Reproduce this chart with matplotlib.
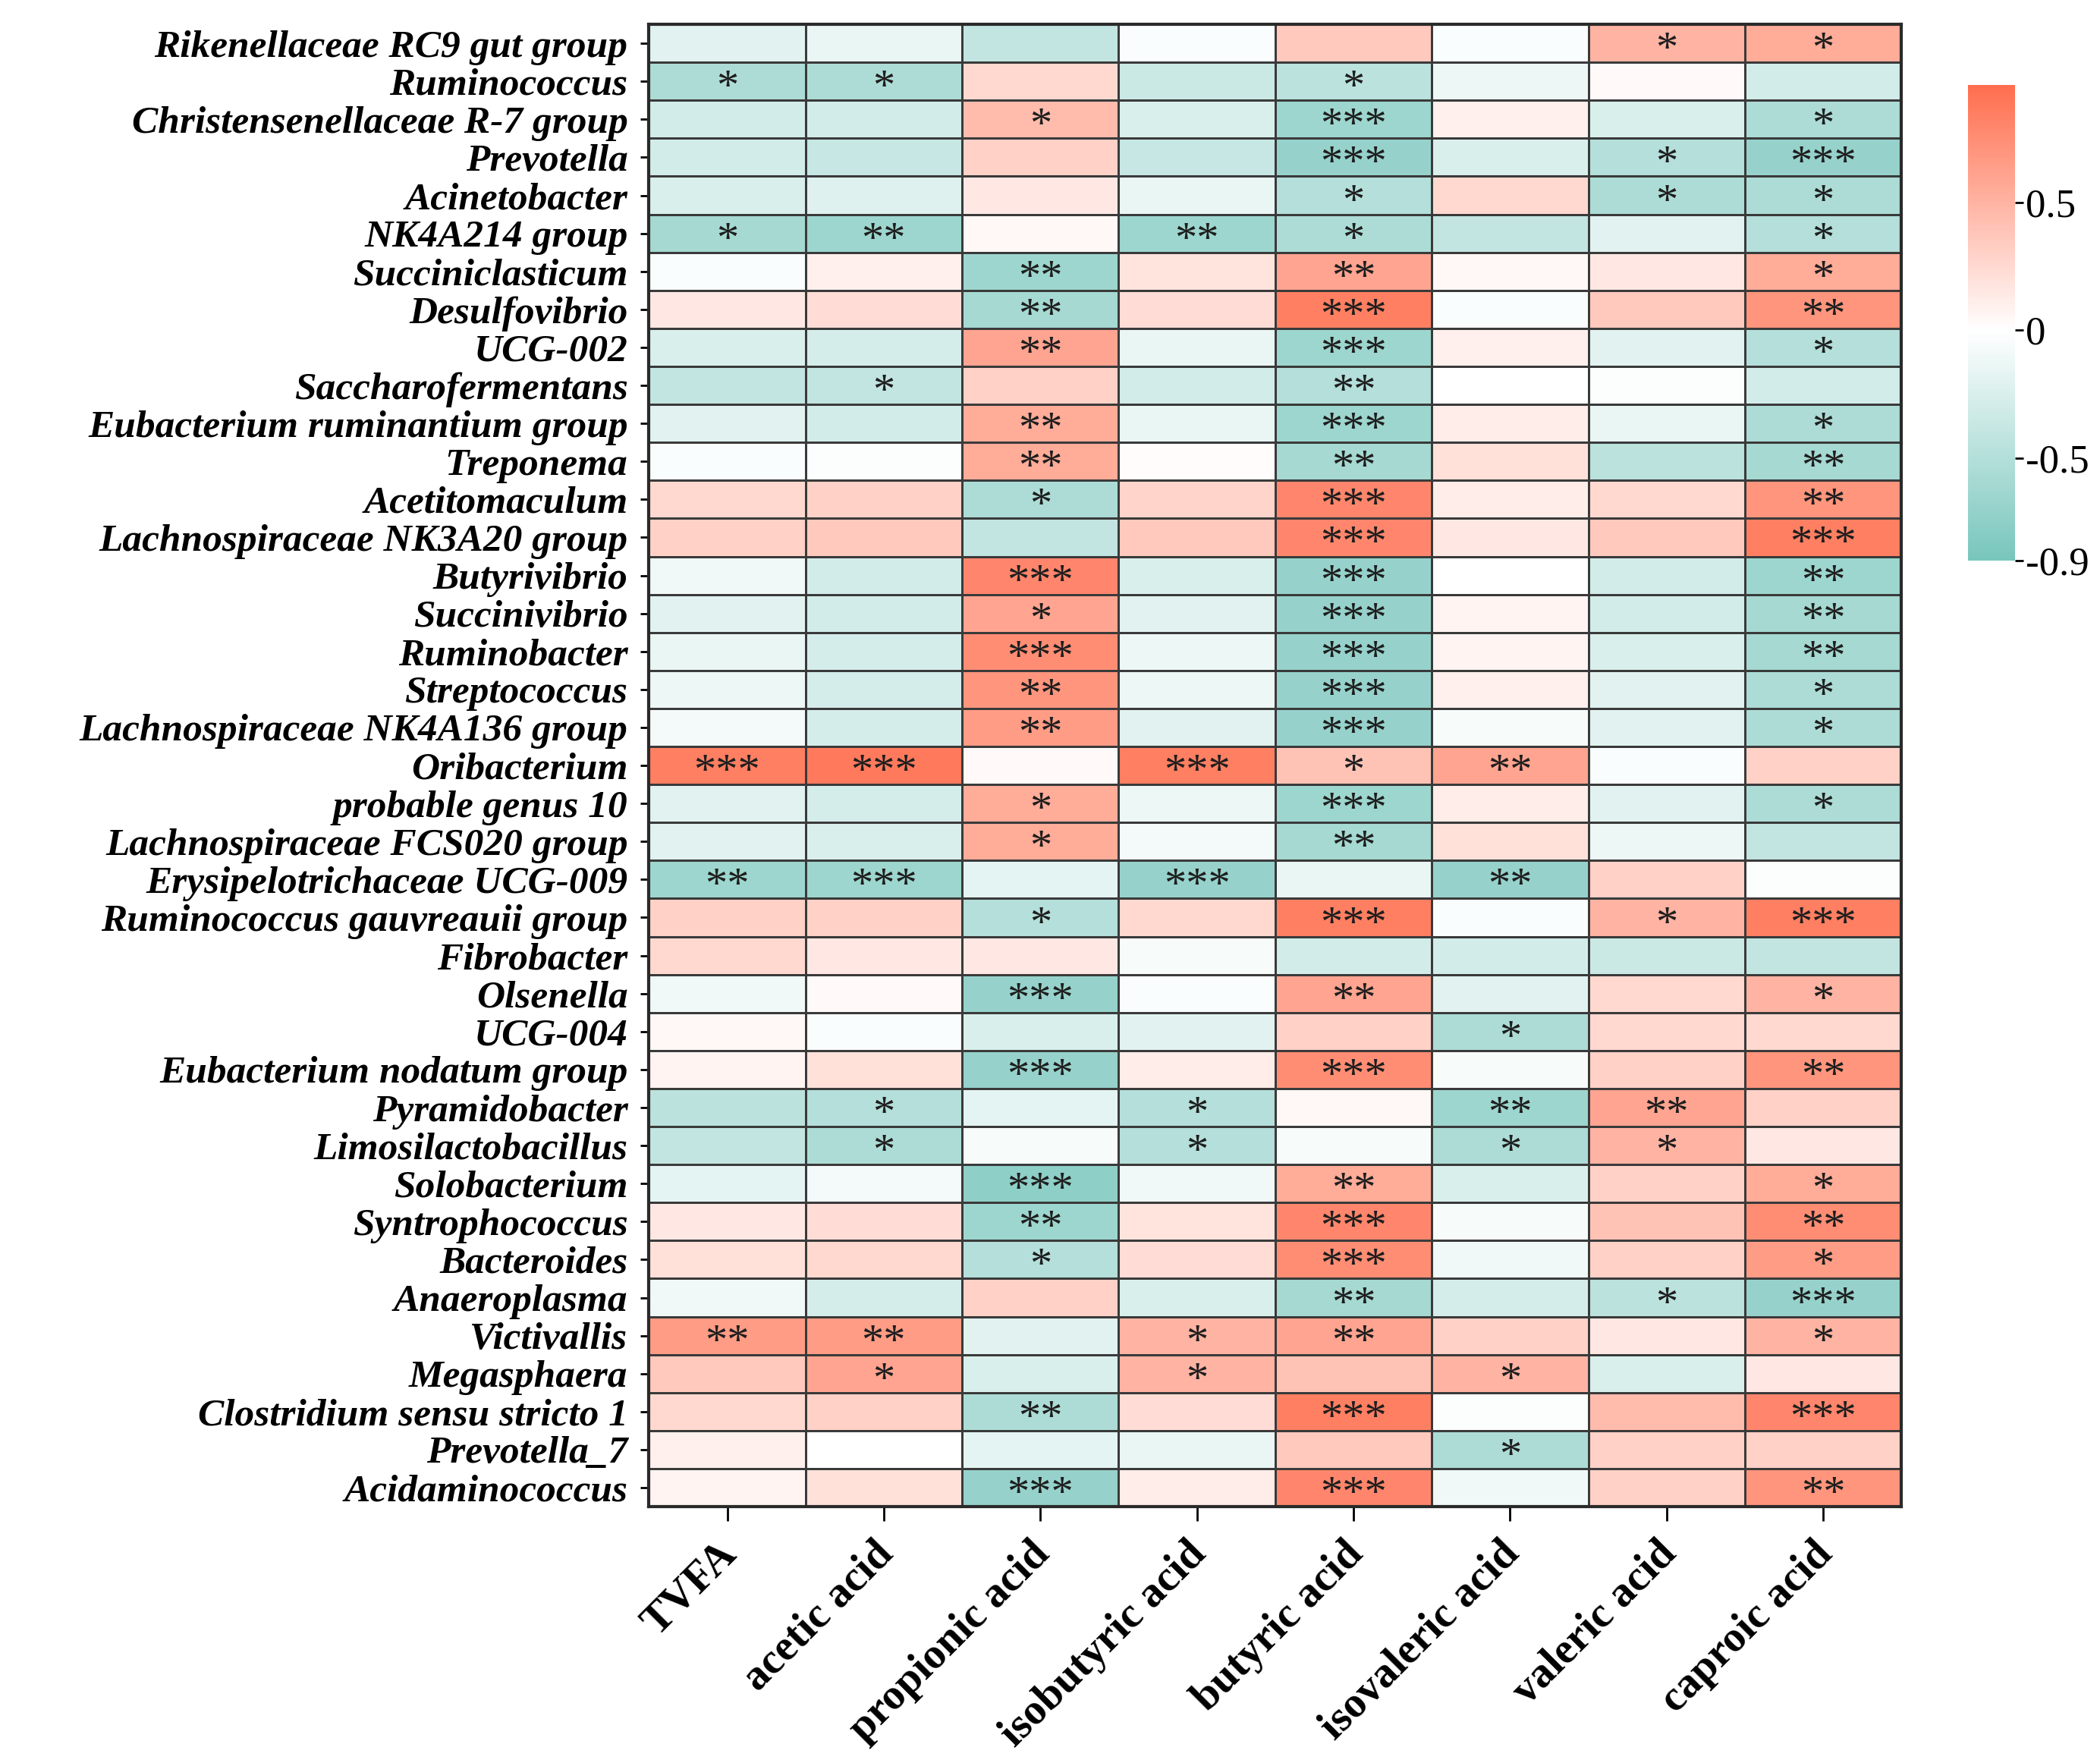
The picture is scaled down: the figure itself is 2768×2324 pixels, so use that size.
import numpy as np
import matplotlib
matplotlib.use('Agg')
import matplotlib.pyplot as plt
import matplotlib.transforms as mtransforms
from matplotlib.colors import LinearSegmentedColormap, Normalize

# row labels (genera), top to bottom
genera = ['Rikenellaceae RC9 gut group', 'Ruminococcus', 'Christensenellaceae R-7 group',
          'Prevotella', 'Acinetobacter', 'NK4A214 group', 'Succiniclasticum', 'Desulfovibrio',
          'UCG-002', 'Saccharofermentans', 'Eubacterium ruminantium group', 'Treponema',
          'Acetitomaculum', 'Lachnospiraceae NK3A20 group', 'Butyrivibrio', 'Succinivibrio',
          'Ruminobacter', 'Streptococcus', 'Lachnospiraceae NK4A136 group', 'Oribacterium',
          'probable genus 10', 'Lachnospiraceae FCS020 group', 'Erysipelotrichaceae UCG-009',
          'Ruminococcus gauvreauii group', 'Fibrobacter', 'Olsenella', 'UCG-004',
          'Eubacterium nodatum group', 'Pyramidobacter', 'Limosilactobacillus', 'Solobacterium',
          'Syntrophococcus', 'Bacteroides', 'Anaeroplasma', 'Victivallis', 'Megasphaera',
          'Clostridium sensu stricto 1', 'Prevotella_7', 'Acidaminococcus']

acids = ['TVFA', 'acetic acid', 'propionic acid', 'isobutyric acid', 'butyric acid',
         'isovaleric acid', 'valeric acid', 'caproic acid']

# correlation estimates, one list per genus (columns follow acids)
corr = [
    [-0.20, -0.15, -0.40, -0.03, 0.35, -0.03, 0.50, 0.55],
    [-0.55, -0.55, 0.25, -0.35, -0.45, -0.12, 0.03, -0.30],
    [-0.30, -0.30, 0.45, -0.25, -0.65, 0.10, -0.25, -0.55],
    [-0.30, -0.38, 0.30, -0.38, -0.70, -0.25, -0.50, -0.70],
    [-0.25, -0.22, 0.15, -0.15, -0.50, 0.25, -0.55, -0.55],
    [-0.60, -0.65, 0.05, -0.65, -0.55, -0.40, -0.20, -0.50],
    [-0.03, 0.10, -0.65, 0.18, 0.60, 0.05, 0.15, 0.55],
    [0.15, 0.22, -0.60, 0.22, 0.85, -0.03, 0.35, 0.70],
    [-0.25, -0.28, 0.60, -0.15, -0.65, 0.10, -0.20, -0.50],
    [-0.40, -0.40, 0.30, -0.30, -0.50, 0.00, -0.02, -0.30],
    [-0.20, -0.30, 0.55, -0.15, -0.65, 0.12, -0.15, -0.55],
    [-0.03, -0.02, 0.55, 0.02, -0.60, 0.20, -0.45, -0.60],
    [0.25, 0.30, -0.55, 0.28, 0.80, 0.12, 0.25, 0.70],
    [0.30, 0.35, -0.40, 0.35, 0.80, 0.15, 0.35, 0.85],
    [-0.10, -0.30, 0.80, -0.25, -0.70, 0.00, -0.30, -0.65],
    [-0.20, -0.30, 0.60, -0.20, -0.70, 0.07, -0.30, -0.60],
    [-0.15, -0.28, 0.75, -0.12, -0.70, 0.07, -0.25, -0.60],
    [-0.12, -0.28, 0.70, -0.12, -0.70, 0.10, -0.20, -0.55],
    [-0.08, -0.28, 0.65, -0.20, -0.70, -0.05, -0.20, -0.55],
    [0.85, 0.88, 0.03, 0.85, 0.40, 0.60, -0.03, 0.30],
    [-0.20, -0.28, 0.55, -0.12, -0.65, 0.12, -0.20, -0.55],
    [-0.20, -0.25, 0.55, -0.08, -0.60, 0.20, -0.12, -0.40],
    [-0.65, -0.65, -0.18, -0.70, -0.15, -0.70, 0.30, -0.02],
    [0.30, 0.30, -0.50, 0.25, 0.85, -0.03, 0.50, 0.85],
    [0.25, 0.15, 0.15, -0.05, -0.30, -0.30, -0.35, -0.40],
    [-0.10, 0.03, -0.70, -0.03, 0.60, -0.20, 0.25, 0.50],
    [0.05, -0.03, -0.25, -0.20, 0.30, -0.55, 0.25, 0.25],
    [0.07, 0.20, -0.70, 0.12, 0.75, -0.05, 0.30, 0.70],
    [-0.45, -0.50, -0.18, -0.50, 0.05, -0.65, 0.60, 0.30],
    [-0.40, -0.55, -0.05, -0.50, -0.05, -0.55, 0.50, 0.15],
    [-0.18, -0.08, -0.75, -0.10, 0.55, -0.25, 0.30, 0.55],
    [0.15, 0.22, -0.65, 0.18, 0.80, -0.05, 0.40, 0.75],
    [0.20, 0.25, -0.50, 0.22, 0.75, -0.10, 0.30, 0.65],
    [-0.10, -0.28, 0.30, -0.25, -0.60, -0.28, -0.45, -0.70],
    [0.65, 0.65, -0.20, 0.50, 0.60, 0.30, 0.15, 0.50],
    [0.35, 0.60, -0.25, 0.50, 0.40, 0.50, -0.25, 0.15],
    [0.25, 0.30, -0.55, 0.22, 0.85, -0.02, 0.45, 0.80],
    [0.10, 0.00, -0.18, -0.15, 0.35, -0.55, 0.30, 0.30],
    [0.07, 0.20, -0.70, 0.12, 0.80, -0.10, 0.30, 0.70],
]

# significance marks
sig = [
    ['', '', '', '', '', '', '*', '*'],
    ['*', '*', '', '', '*', '', '', ''],
    ['', '', '*', '', '***', '', '', '*'],
    ['', '', '', '', '***', '', '*', '***'],
    ['', '', '', '', '*', '', '*', '*'],
    ['*', '**', '', '**', '*', '', '', '*'],
    ['', '', '**', '', '**', '', '', '*'],
    ['', '', '**', '', '***', '', '', '**'],
    ['', '', '**', '', '***', '', '', '*'],
    ['', '*', '', '', '**', '', '', ''],
    ['', '', '**', '', '***', '', '', '*'],
    ['', '', '**', '', '**', '', '', '**'],
    ['', '', '*', '', '***', '', '', '**'],
    ['', '', '', '', '***', '', '', '***'],
    ['', '', '***', '', '***', '', '', '**'],
    ['', '', '*', '', '***', '', '', '**'],
    ['', '', '***', '', '***', '', '', '**'],
    ['', '', '**', '', '***', '', '', '*'],
    ['', '', '**', '', '***', '', '', '*'],
    ['***', '***', '', '***', '*', '**', '', ''],
    ['', '', '*', '', '***', '', '', '*'],
    ['', '', '*', '', '**', '', '', ''],
    ['**', '***', '', '***', '', '**', '', ''],
    ['', '', '*', '', '***', '', '*', '***'],
    ['', '', '', '', '', '', '', ''],
    ['', '', '***', '', '**', '', '', '*'],
    ['', '', '', '', '', '*', '', ''],
    ['', '', '***', '', '***', '', '', '**'],
    ['', '*', '', '*', '', '**', '**', ''],
    ['', '*', '', '*', '', '*', '*', ''],
    ['', '', '***', '', '**', '', '', '*'],
    ['', '', '**', '', '***', '', '', '**'],
    ['', '', '*', '', '***', '', '', '*'],
    ['', '', '', '', '**', '', '*', '***'],
    ['**', '**', '', '*', '**', '', '', '*'],
    ['', '*', '', '*', '', '*', '', ''],
    ['', '', '**', '', '***', '', '', '***'],
    ['', '', '', '', '', '*', '', ''],
    ['', '', '***', '', '***', '', '', '**'],
]

cbar_ticks = [-0.9, -0.5, 0, 0.5]
cbar_ticklabels = ['-0.9', '-0.5', '0', '0.5']
vmin, vmax = -0.9, 0.96

plt.rcParams['font.family'] = ['Liberation Serif', 'DejaVu Serif']

vals = np.array(corr)
nrow, ncol = vals.shape

mid = (0 - vmin) / (vmax - vmin)
cmap = LinearSegmentedColormap.from_list(
    'tealcoral', [(0, '#78C6BC'), (mid, '#FFFFFF'), (1, '#FF6E4E')])
norm = Normalize(vmin=vmin, vmax=vmax)

fig = plt.figure(figsize=(13.84, 11.62), dpi=200)
ax = fig.add_axes([0.309, 0.1454, 0.5965, 0.8408])

mesh = ax.pcolormesh(np.arange(ncol + 1), np.arange(nrow + 1), vals, cmap=cmap, norm=norm,
                     edgecolors='#3a3a3a', linewidth=1.0)
ax.set_xlim(0, ncol)
ax.set_ylim(nrow, 0)

for i in range(nrow):
    for j in range(ncol):
        if sig[i][j]:
            ax.text(j + 0.5, i + 0.70, sig[i][j], ha='center', va='center',
                    fontsize=21, color='#1e1e1e')

ax.set_yticks(np.arange(nrow) + 0.5)
ax.set_yticklabels(genera, fontsize=18.5, fontweight='bold', fontstyle='italic')
ax.set_xticks(np.arange(ncol) + 0.5)
ax.set_xticklabels(acids, fontsize=20.5, fontweight='bold', rotation=45,
                   ha='right', va='top', rotation_mode='anchor')
ax.tick_params(axis='y', length=4, width=1, pad=6)
ax.tick_params(axis='x', length=7, width=1, pad=6)
shift = mtransforms.ScaledTranslation(-5 / 72, 0, fig.dpi_scale_trans)
for lab in ax.get_xticklabels():
    lab.set_transform(lab.get_transform() + shift)
for s in ax.spines.values():
    s.set_linewidth(1.5)
    s.set_color('#2a2a2a')

cax = fig.add_axes([0.937, 0.682, 0.0224, 0.270])
cb = fig.colorbar(mesh, cax=cax)
cb.outline.set_visible(False)
cb.set_ticks(cbar_ticks)
cb.set_ticklabels(cbar_ticklabels)
cax.tick_params(labelsize=19, length=4, width=1, pad=1)

fig.savefig('out.png', dpi=200)
